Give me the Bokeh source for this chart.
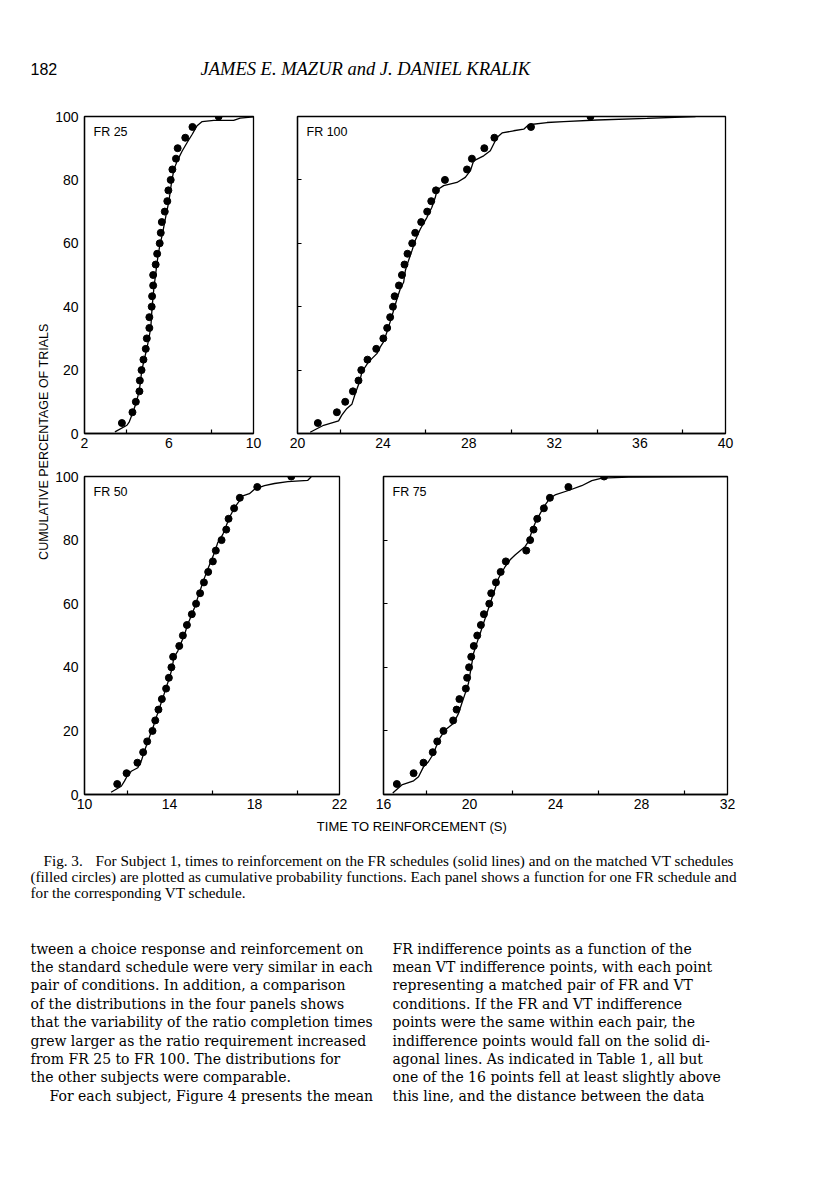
from math import pi
from bokeh.plotting import figure
from bokeh.layouts import column, row
from bokeh.models import Range1d, FixedTicker, Label
from bokeh.embed import file_html
from bokeh.resources import INLINE
from bokeh.core.properties import value

# ---------------- data ----------------
# cumulative percentage of trials for the 30 VT (filled circle) points
vt_pct = [3.3, 6.7, 10.0, 13.3, 16.7, 20.0, 23.3, 26.7, 30.0, 33.3,
          36.7, 40.0, 43.3, 46.7, 50.0, 53.3, 56.7, 60.0, 63.3, 66.7,
          70.0, 73.3, 76.7, 80.0, 83.3, 86.7, 90.0, 93.3, 96.7, 100.0]

# FR 25
fr25_vt_time = [3.77, 4.27, 4.43, 4.60, 4.62, 4.70, 4.79, 4.90, 4.95, 5.07,
                5.07, 5.18, 5.20, 5.25, 5.25, 5.37, 5.44, 5.56, 5.61, 5.66,
                5.80, 5.92, 5.97, 6.08, 6.16, 6.33, 6.41, 6.77, 7.11, 8.35]
fr25_line_time = [3.44, 4.01, 4.12, 4.27, 4.43, 4.56, 4.64, 4.71, 4.82, 4.95, 5.06,
                  5.14, 5.18, 5.23, 5.29, 5.37, 5.45, 5.55, 5.69, 5.84, 6.00, 6.13,
                  6.24, 6.39, 6.63, 6.86, 7.10, 7.33, 7.57, 8.12, 9.06, 9.37, 10.0]
fr25_line_pct = [0.5, 2.6, 3.7, 6.3, 9.4, 12.6, 15.7, 19.9, 23.1, 26.8, 30.4,
                 33.6, 37.8, 42.0, 46.2, 50.4, 54.6, 58.8, 63.0, 68.2, 73.5, 79.7,
                 83.4, 86.0, 89.2, 91.8, 94.4, 97.1, 98.4, 98.8, 98.8, 99.5, 99.9]

# FR 100
fr100_vt_time = [20.95, 21.84, 22.23, 22.59, 22.85, 22.98, 23.27, 23.68, 24.01, 24.19,
                 24.33, 24.46, 24.54, 24.74, 24.88, 25.00, 25.14, 25.36, 25.50, 25.78,
                 26.06, 26.25, 26.47, 26.89, 27.92, 28.15, 28.73, 29.20, 30.91, 33.69]
fr100_line_time = [20.59, 21.22, 21.92, 22.07, 22.31, 22.54, 22.70, 22.90, 23.01, 23.32,
                   23.71, 23.87, 24.02, 24.18, 24.33, 24.49, 24.65, 24.80, 24.96, 25.04,
                   25.19, 25.35, 25.50, 25.74, 26.05, 26.28, 26.44, 26.52, 26.83, 27.45,
                   27.84, 28.08, 28.23, 28.70, 29.01, 29.32, 29.56, 30.10, 30.57, 30.80,
                   31.66, 32.44, 34.00, 36.34, 38.60]
fr100_line_pct = [0.4, 2.6, 4.0, 5.8, 7.9, 9.2, 12.6, 16.3, 19.4, 22.6,
                  25.2, 27.3, 28.9, 32.0, 35.2, 38.8, 42.5, 45.6, 47.7, 51.4,
                  54.6, 57.7, 60.9, 64.5, 68.2, 71.4, 74.5, 76.8, 78.2, 79.2,
                  80.8, 82.9, 86.0, 87.6, 89.2, 93.4, 94.8, 95.5, 96.0, 97.4,
                  98.1, 98.4, 98.9, 99.4, 100.0]

# FR 50
fr50_vt_time = [11.54, 11.98, 12.49, 12.76, 12.95, 13.20, 13.33, 13.48, 13.64, 13.84,
                13.97, 14.09, 14.17, 14.46, 14.63, 14.82, 15.05, 15.25, 15.44, 15.62,
                15.82, 16.04, 16.18, 16.45, 16.67, 16.78, 17.04, 17.31, 18.13, 19.73]
fr50_line_time = [11.25, 11.73, 11.88, 12.01, 12.20, 12.51, 12.67, 12.82, 13.01, 13.22,
                  13.37, 13.53, 13.69, 13.84, 14.00, 14.13, 14.20, 14.39, 14.55, 14.71,
                  14.86, 15.02, 15.18, 15.33, 15.49, 15.65, 15.80, 15.96, 16.12, 16.27,
                  16.51, 16.67, 16.82, 17.06, 17.29, 17.45, 17.76, 18.00, 18.47, 18.94,
                  19.57, 20.51, 20.67]
fr50_line_pct = [0.7, 2.6, 4.2, 5.8, 7.3, 8.4, 10.5, 13.6, 17.3, 21.0,
                 24.1, 27.3, 30.4, 33.6, 36.7, 39.9, 43.0, 45.1, 47.7, 50.4,
                 53.5, 56.1, 58.8, 61.9, 65.1, 68.2, 70.8, 73.5, 76.1, 79.2,
                 81.8, 84.5, 87.1, 90.2, 92.3, 93.9, 94.6, 96.0, 97.1, 97.8,
                 98.4, 98.8, 99.9]

# FR 75
fr75_vt_time = [16.62, 17.40, 17.86, 18.29, 18.50, 18.79, 19.24, 19.40, 19.53, 19.83,
                19.89, 19.98, 20.08, 20.20, 20.36, 20.53, 20.67, 20.92, 21.01, 21.23,
                21.45, 21.69, 22.64, 22.82, 22.98, 23.15, 23.46, 23.74, 24.60, 26.26]
fr75_line_time = [16.43, 16.85, 17.40, 17.63, 17.86, 18.09, 18.33, 18.56, 18.87, 19.26,
                  19.49, 19.64, 19.80, 19.95, 20.03, 20.11, 20.19, 20.34, 20.50, 20.65,
                  20.81, 20.96, 21.12, 21.35, 21.66, 21.89, 22.12, 22.59, 22.74, 22.90,
                  23.05, 23.29, 23.52, 23.75, 23.98, 24.60, 25.22, 25.69, 26.16, 27.40,
                  32.00]
fr75_line_pct = [0.5, 3.0, 4.3, 5.6, 8.7, 10.3, 12.9, 17.1, 20.3, 22.4,
                 25.5, 28.6, 31.8, 34.9, 38.1, 41.2, 44.4, 47.6, 50.7, 53.8,
                 57.0, 60.1, 63.3, 68.0, 71.7, 73.8, 75.3, 78.0, 79.5, 82.7,
                 85.3, 88.4, 91.1, 93.2, 94.2, 95.6, 97.1, 98.7, 99.5, 99.8,
                 100.0]

pct_ticks = [0, 20, 40, 60, 80, 100]
pct_inner_ticks = [20, 40, 60, 80]

header_page = "182"
header_title = "JAMES E. MAZUR and J. DANIEL KRALIK"
y_title = "CUMULATIVE  PERCENTAGE  OF  TRIALS"
x_title = "TIME  TO  REINFORCEMENT  (S)"
caption_fig = "Fig. 3."
caption_lines = [
    "For Subject 1, times to reinforcement on the FR schedules (solid lines) and on the matched VT schedules",
    "(filled circles) are plotted as cumulative probability functions. Each panel shows a function for one FR schedule and",
    "for the corresponding VT schedule.",
]
body_left = [
    "tween a choice response and reinforcement on",
    "the standard schedule were very similar in each",
    "pair of conditions. In addition, a comparison",
    "of the distributions in the four panels shows",
    "that the variability of the ratio completion times",
    "grew larger as the ratio requirement increased",
    "from FR 25 to FR 100. The distributions for",
    "the other subjects were comparable.",
    "For each subject, Figure 4 presents the mean",
]
body_right = [
    "FR indifference points as a function of the",
    "mean VT indifference points, with each point",
    "representing a matched pair of FR and VT",
    "conditions. If the FR and VT indifference",
    "points were the same within each pair, the",
    "indifference points would fall on the solid di-",
    "agonal lines. As indicated in Table 1, all but",
    "one of the 16 points fell at least slightly above",
    "this line, and the distance between the data",
]

SANS = "Liberation Sans"
SERIF = "Liberation Serif"
BODY = "DejaVu Serif"


def text_fig(w, h, x0, x1, y_bottom, y_top):
    p = figure(frame_width=w, frame_height=h, x_range=Range1d(x0, x1),
               y_range=Range1d(y_bottom, y_top), x_axis_type=None, y_axis_type=None,
               output_backend="svg", toolbar_location=None, min_border=0,
               outline_line_color=None, background_fill_color="white",
               border_fill_color="white")
    p.grid.visible = False
    return p


def panel(name, xr, xticks, xminor, vt_time, line_time, line_pct,
          fw, fh, bl, br, bt, bb, ylabels):
    p = figure(frame_width=fw, frame_height=fh, x_range=Range1d(*xr),
               y_range=Range1d(0, 100), output_backend="svg", toolbar_location=None,
               min_border_left=bl, min_border_right=br, min_border_top=bt,
               min_border_bottom=bb, background_fill_color="white",
               border_fill_color="white")
    p.grid.visible = False
    p.outline_line_color = "black"
    p.outline_line_width = 1.3
    p.outline_line_alpha = 1.0

    xa = p.xaxis[0]
    xa.ticker = FixedTicker(ticks=xticks, minor_ticks=xminor)
    xa.major_tick_in = 0
    xa.major_tick_out = 0
    xa.minor_tick_in = 4
    xa.minor_tick_out = 0
    xa.minor_tick_line_color = "black"
    xa.minor_tick_line_width = 1.2
    xa.axis_line_color = "black"
    xa.axis_line_width = 1.3
    xa.major_label_text_font = SANS
    xa.major_label_text_font_size = "14px"
    xa.major_label_text_color = "black"
    xa.major_label_standoff = 4

    ya = p.yaxis[0]
    ya.axis_line_color = "black"
    ya.axis_line_width = 1.3
    if ylabels:
        ya.ticker = FixedTicker(ticks=pct_ticks)
        ya.major_tick_in = 0
        ya.major_tick_out = 0
        ya.minor_tick_line_color = None
        ya.major_label_text_font = SANS
        ya.major_label_text_font_size = "14px"
        ya.major_label_text_color = "black"
        ya.major_label_standoff = 6
    else:
        # unlabeled panel: only short inward ticks
        ya.ticker = FixedTicker(ticks=[], minor_ticks=pct_inner_ticks)
        ya.major_tick_line_color = None
        ya.minor_tick_in = 4
        ya.minor_tick_out = 0
        ya.minor_tick_line_color = "black"
        ya.minor_tick_line_width = 1.2

    p.line(line_time, line_pct, line_color="black", line_width=1.3)
    p.scatter(vt_time, vt_pct, size=7, marker="circle",
              fill_color="black", line_color="black")
    p.add_layout(Label(x=9, y=fh - 8, x_units="screen", y_units="screen",
                       text=name, text_baseline="top", text_align="left",
                       text_font=SANS, text_font_size="12.5px", text_color="black"))
    return p


# header (page y 0..100)
hdr = text_fig(808, 100, 0, 808, 100, 0)
hdr.text(x=[30], y=[68], text=[header_page], text_font=value(SANS),
         text_font_size=value("16px"), text_baseline="middle", text_align="left",
         text_color="black")
hdr.text(x=[200], y=[68], text=[header_title], text_font=value(SERIF),
         text_font_size=value("18.5px"), text_font_style="italic",
         text_baseline="middle", text_align="left", text_color="black")

# rotated y title (page x 0..52, y 100..815)
ylab = text_fig(52, 715, 0, 52, 815, 100)
ylab.text(x=[43], y=[436], text=[y_title], angle=pi / 2, text_font=value(SANS),
          text_font_size=value("12.5px"), text_baseline="middle", text_align="center",
          text_color="black")

pA = panel("FR 25", (2, 10), [2, 6, 10], [4, 8], fr25_vt_time,
           fr25_line_time, fr25_line_pct, 169, 317, 32, 22, 16, 27, True)
pB = panel("FR 100", (20, 40), [20, 24, 28, 32, 36, 40], [22, 26, 30, 34, 38],
           fr100_vt_time, fr100_line_time, fr100_line_pct, 428, 317, 22, 83, 16, 27, False)
pC = panel("FR 50", (10, 22), [10, 14, 18, 22], [12, 16, 20], fr50_vt_time,
           fr50_line_time, fr50_line_pct, 255, 318, 31, 22, 16, 21, True)
pD = panel("FR 75", (16, 32), [16, 20, 24, 28, 32], [18, 22, 26, 30],
           fr75_vt_time, fr75_line_time, fr75_line_pct, 344, 318, 22, 82, 16, 21, False)

# bottom text block (page y 815..1190)
bot = text_fig(808, 375, 0, 808, 1190, 815)
bot.text(x=[417], y=[826], text=[x_title], text_font=value(SANS),
         text_font_size=value("13px"), text_baseline="middle", text_align="center",
         text_color="black")
bot.text(x=[43], y=[860], text=[caption_fig], text_font=value(SERIF),
         text_font_size=value("15.2px"), text_baseline="middle", text_align="left",
         text_color="black")
bot.text(x=[95, 30, 30], y=[860, 876, 892], text=caption_lines, text_font=value(SERIF),
         text_font_size=value("15.2px"), text_baseline="middle", text_align="left",
         text_color="black")
body_y = [948, 966.4, 984.8, 1003.2, 1021.6, 1040, 1058.4, 1076.8, 1095.2]
bot.text(x=[30] * 8 + [49], y=body_y, text=body_left, text_font=value(BODY),
         text_font_size=value("14px"), text_baseline="middle", text_align="left",
         text_color="black")
bot.text(x=[392] * 9, y=body_y, text=body_right, text_font=value(BODY),
         text_font_size=value("14px"), text_baseline="middle", text_align="left",
         text_color="black")

layout = column(hdr, row(ylab, column(row(pA, pB), row(pC, pD))), bot)

open("out.html", "w").write(file_html(layout, INLINE))
